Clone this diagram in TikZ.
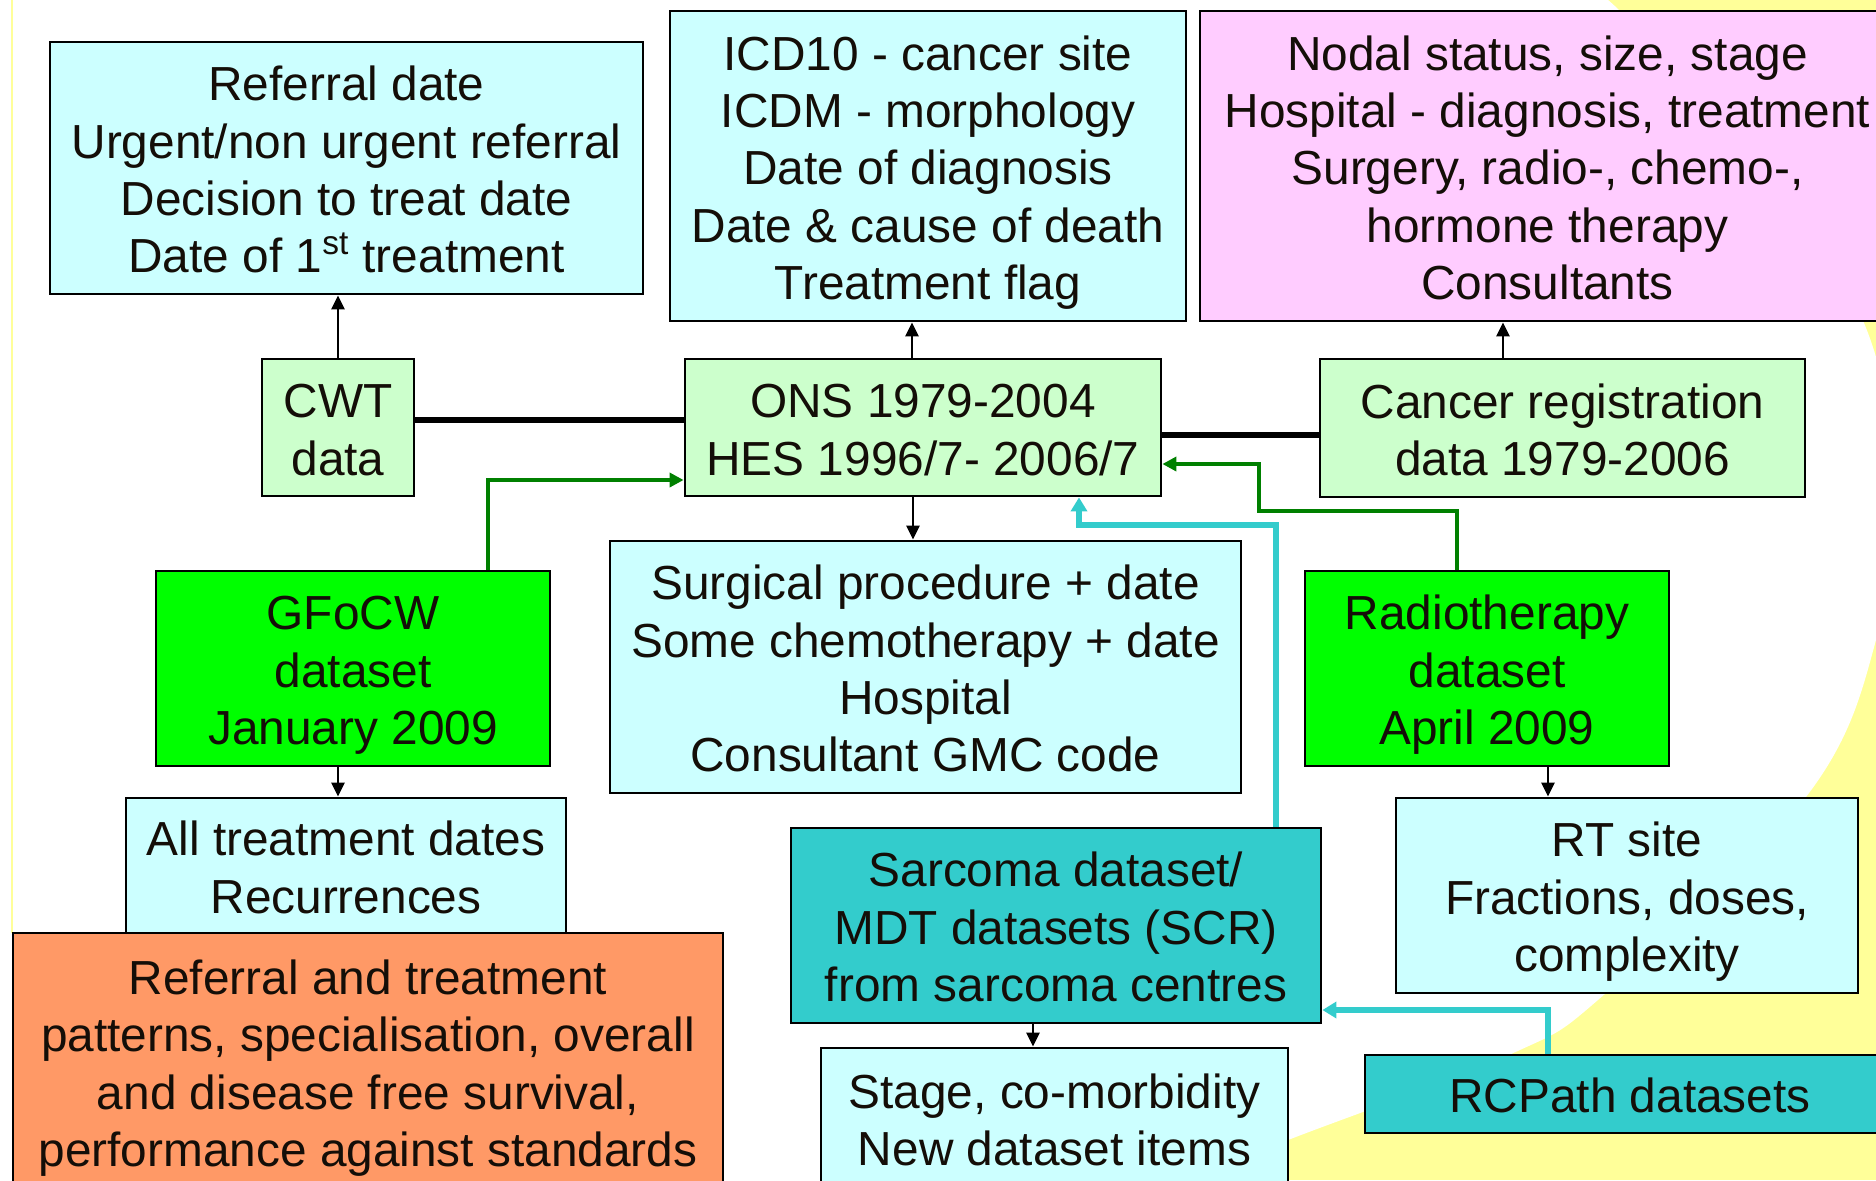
\documentclass[tikz,border=0pt]{standalone}
\usepackage{fontspec}
\setmainfont{Liberation Sans}
\usetikzlibrary{arrows.meta,calc}
\definecolor{ltcyan}{HTML}{CCFFFF}
\definecolor{ltgreen}{HTML}{CCFFCC}
\definecolor{brgreen}{HTML}{00FF00}
\definecolor{pinkbox}{HTML}{FFCCFF}
\definecolor{orangebox}{HTML}{FF9966}
\definecolor{tealbox}{HTML}{33CCCC}
\definecolor{bgyellow}{HTML}{FFFF99}
\definecolor{arrgreen}{HTML}{008000}
\definecolor{arrcyan}{HTML}{33CCCC}
\definecolor{inkdark}{HTML}{140E08}
\newcommand\boxlines[1]{\raisebox{-3.7pt}[\height][\depth]{\begin{tabular}{@{}c@{}}#1\end{tabular}}}
\begin{document}
\begin{tikzpicture}[x=0.5pt,y=-0.5pt,
  box/.style={draw=black, line width=1.4pt, inner sep=0pt,
    text=inkdark, font=\fontsize{23.9pt}{28.7pt}\selectfont},
  sz/.style 2 args={minimum width=#1*0.5pt, minimum height=#2*0.5pt},
  arr/.style={draw=black, line width=1.4pt, -{Triangle[length=7pt,width=6.5pt]}},
  thickln/.style={draw=black, line width=2.8pt},
  garr/.style={draw=arrgreen, line width=2.2pt, -{Triangle[length=7pt,width=7pt]}},
  carr/.style={draw=arrcyan, line width=2.8pt, -{Triangle[length=7pt,width=8pt]}}]
\useasboundingbox (0,0) rectangle (1876,1180);
% background
\fill[bgyellow] (0,0) rectangle (1876,1180);
\fill[white] (-10,-10) -- (1590,-10) -- plot[smooth, tension=0.6] coordinates
  {(1590,-10) (1622,13) (1760,160) (1864,323) (1893,480) (1876,640) (1806,797)
   (1606,993) (1509,1055) (1288,1140) (1150,1195)} -- (-10,1195) -- cycle;
\draw[bgyellow, line width=0.8pt] (12,0) -- (12,933);
% boxes
\node[box, fill=ltcyan, sz={593}{252}] (ref) at (346.5,168)
  {\boxlines{Referral date\\Urgent/non urgent referral\\Decision to treat date\\Date of 1\textsuperscript{st} treatment}};
\node[box, fill=ltcyan, sz={516}{310}] (icd) at (928,166)
  {\boxlines{ICD10 - cancer site\\ICDM - morphology\\Date of diagnosis\\Date \& cause of death\\Treatment flag}};
\node[box, fill=pinkbox, sz={695}{310}] (pink) at (1547.5,166)
  {\boxlines{Nodal status, size, stage\\Hospital - diagnosis, treatment\\Surgery, radio-, chemo-,\\hormone therapy\\Consultants}};
\node[box, fill=ltgreen, sz={152}{137}] (cwt) at (338,427.5) {\boxlines{CWT\\data}};
\node[box, fill=ltgreen, sz={476}{137}] (ons) at (923,427.5) {\boxlines{ONS 1979-2004\\HES 1996/7- 2006/7}};
\node[box, fill=ltgreen, sz={485}{138}] (cancer) at (1562.5,428) {\boxlines{Cancer registration\\data 1979-2006}};
\node[box, fill=brgreen, sz={394}{195}] (gfocw) at (353,668.5) {\boxlines{GFoCW\\dataset\\January 2009}};
\node[box, fill=ltcyan, sz={631}{252}] (surg) at (925.5,667)
  {\boxlines{Surgical procedure + date\\Some chemotherapy + date\\Hospital\\Consultant GMC code}};
\node[box, fill=brgreen, sz={364}{195}] (radio) at (1487,668.5) {\boxlines{Radiotherapy\\dataset\\April 2009}};
\node[box, fill=ltcyan, sz={440}{135}] (alltr) at (346,865.5) {\boxlines{All treatment dates\\Recurrences}};
\node[box, fill=orangebox, sz={710}{257}] (outc) at (368,1061.5)
  {\boxlines{Referral and treatment\\patterns, specialisation, overall\\and disease free survival,\\performance against standards}};
\node[box, fill=tealbox, sz={530}{195}] (sarc) at (1056,925.5)
  {\boxlines{Sarcoma dataset/\\MDT datasets (SCR)\\from sarcoma centres}};
\node[box, fill=ltcyan, sz={467}{140}] (stage) at (1054.5,1118) {\boxlines{Stage, co-morbidity\\New dataset items}};
\node[box, fill=ltcyan, sz={462}{195}] (rt) at (1627,895.5) {\boxlines{RT site\\Fractions, doses,\\complexity}};
\node[box, fill=tealbox, sz={530}{78}] (rcp) at (1630,1094) {\boxlines{RCPath datasets}};
% connectors
\draw[arr] (338,0 |- cwt.north) -- (338,0 |- ref.south);
\draw[arr] (912,0 |- ons.north) -- (912,0 |- icd.south);
\draw[arr] (1503,0 |- cancer.north) -- (1503,0 |- pink.south);
\draw[arr] (913,0 |- ons.south) -- (913,0 |- surg.north);
\draw[arr] (338,0 |- gfocw.south) -- (338,0 |- alltr.north);
\draw[arr] (1548,0 |- radio.south) -- (1548,0 |- rt.north);
\draw[arr] (1033,0 |- sarc.south) -- (1033,0 |- stage.north);
\draw[thickln] (cwt.east |- 0,420) -- (ons.west |- 0,420);
\draw[thickln] (ons.east |- 0,435) -- (cancer.west |- 0,435);
\draw[garr] (488,0 |- gfocw.north) |- (ons.west |- 0,480);
\draw[garr] (1457,0 |- radio.north) -- (1457,511) -- (1259,511) -- (1259,464) -- (ons.east |- 0,464);
\draw[carr] (1276,0 |- sarc.north) -- (1276,525) -- (1079,525) -- (1079,0 |- ons.south);
\draw[carr] (1548,0 |- rcp.north) |- (sarc.east |- 0,1010);
\end{tikzpicture}
\end{document}
